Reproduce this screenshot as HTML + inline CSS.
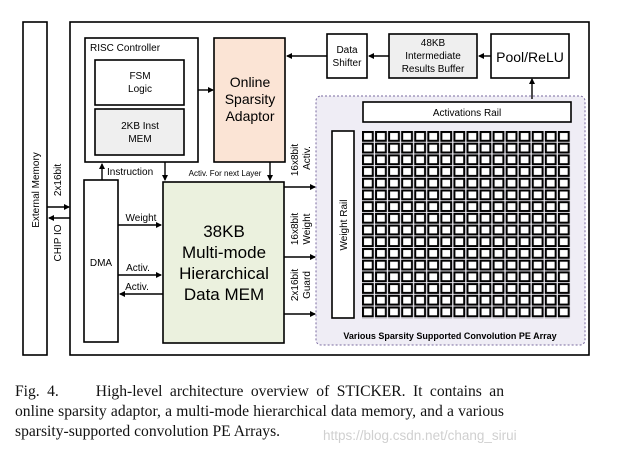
<!DOCTYPE html>
<html><head><meta charset="utf-8"><style>
html,body{margin:0;padding:0;background:#fff;width:618px;height:457px;overflow:hidden}
svg{position:absolute;left:0;top:0}
.cap{position:absolute;left:15px;width:489px;font-family:"Liberation Serif",serif;font-size:15.6px;line-height:20px;color:#111;text-align:justify;text-align-last:justify;white-space:nowrap}
.wm{position:absolute;left:323px;top:428px;font-family:"Liberation Sans",sans-serif;font-size:13.5px;color:#d0d0d0}
</style></head><body>
<svg width="618" height="457" viewBox="0 0 618 457" font-family="Liberation Sans, sans-serif">
<defs>
<marker id="a" markerWidth="6" markerHeight="6" refX="5" refY="3" orient="auto" markerUnits="userSpaceOnUse"><path d="M0,0 L6,3 L0,6 z" fill="#000"/></marker>
<pattern id="pe" x="362" y="131" width="13.06" height="11.7" patternUnits="userSpaceOnUse"><rect x="1" y="1" width="9.8" height="8.8" fill="#fff" stroke="#000" stroke-width="2"/></pattern>
</defs>
<g stroke="#000" stroke-width="1.6" fill="#fff">
<rect x="23" y="22" width="24" height="333"/>
<rect x="70" y="22" width="519" height="333"/>
<rect x="85" y="38" width="113" height="124"/>
<rect x="95" y="60" width="89" height="45"/>
<rect x="95" y="109" width="89" height="46" fill="#efefef"/>
<rect x="214" y="38" width="71" height="124" fill="#fbe4d5"/>
<rect x="84" y="180" width="34" height="162"/>
<rect x="163" y="182" width="121" height="161" fill="#ebf1de"/>
<rect x="316" y="96" width="269" height="249" rx="5" fill="#efedf5" stroke="#7a6aa0" stroke-width="1" stroke-dasharray="2,2"/>
<rect x="327" y="34" width="40" height="44"/>
<rect x="389" y="34" width="88" height="44" fill="#efefef"/>
<rect x="491" y="34" width="78" height="44"/>
<rect x="363" y="102" width="208" height="20"/>
<rect x="332" y="131" width="22" height="187"/>
</g>
<rect x="362" y="131" width="209" height="187.2" fill="url(#pe)"/>
<g stroke="#000" stroke-width="1.4" fill="none" marker-end="url(#a)">
<line x1="532" y1="99" x2="532" y2="79"/>
<line x1="491" y1="56" x2="479" y2="56"/>
<line x1="389" y1="56" x2="369" y2="56"/>
<line x1="327" y1="56" x2="287" y2="56"/>
<line x1="198" y1="90" x2="213" y2="90"/>
<line x1="102" y1="180" x2="102" y2="164"/>
<line x1="165" y1="162" x2="165" y2="180"/>
<line x1="270" y1="162" x2="270" y2="180"/>
<line x1="284" y1="187" x2="315" y2="187"/>
<line x1="284" y1="257" x2="315" y2="257"/>
<line x1="284" y1="314" x2="315" y2="314"/>
<line x1="118" y1="225" x2="161" y2="225"/>
<line x1="118" y1="275" x2="161" y2="275"/>
<line x1="163" y1="294" x2="120" y2="294"/>
<line x1="47" y1="207" x2="69" y2="207"/>
<line x1="70" y1="218" x2="49" y2="218"/>
</g>
<g font-size="10" text-anchor="middle" fill="#000">
<text x="90" y="51" text-anchor="start">RISC Controller</text>
<text x="140" y="79">FSM</text><text x="140" y="92">Logic</text>
<text x="140" y="129">2KB Inst</text><text x="140" y="142">MEM</text>
<text x="250" y="87" font-size="14">Online</text>
<text x="250" y="104" font-size="14">Sparsity</text>
<text x="250" y="121" font-size="14">Adaptor</text>
<text x="347" y="53">Data</text><text x="347" y="66">Shifter</text>
<text x="433" y="46">48KB</text><text x="433" y="59">Intermediate</text><text x="433" y="72">Results Buffer</text>
<text x="530" y="62" font-size="14">Pool/ReLU</text>
<text x="467" y="116">Activations Rail</text>
<text x="347" y="225" transform="rotate(-90 347 225)">Weight Rail</text>
<text x="450" y="339" font-weight="bold" font-size="9">Various Sparsity Supported Convolution PE Array</text>
<text x="101" y="266">DMA</text>
<text x="224" y="237" font-size="17">38KB</text>
<text x="224" y="258" font-size="17">Multi-mode</text>
<text x="224" y="279" font-size="17">Hierarchical</text>
<text x="224" y="300" font-size="17">Data MEM</text>
<text x="107" y="175" text-anchor="start">Instruction</text>
<text x="225" y="176" font-size="8" text-anchor="middle">Activ. For next Layer</text>
<text x="141" y="221">Weight</text>
<text x="138" y="271">Activ.</text>
<text x="137" y="290">Activ.</text>
<text x="39" y="190" transform="rotate(-90 39 190)">External Memory</text>
<text x="61" y="180" transform="rotate(-90 61 180)">2x16bit</text>
<text x="61" y="243" transform="rotate(-90 61 243)">CHIP IO</text>
<text x="298" y="160" transform="rotate(-90 298 160)">16x8bit</text>
<text x="310" y="158" transform="rotate(-90 310 158)">Activ.</text>
<text x="298" y="229" transform="rotate(-90 298 229)">16x8bit</text>
<text x="310" y="229" transform="rotate(-90 310 229)">Weight</text>
<text x="298" y="285" transform="rotate(-90 298 285)">2x16bit</text>
<text x="310" y="285" transform="rotate(-90 310 285)">Guard</text>
</g>
</svg>
<div class="cap" style="top:382px">Fig. 4.&nbsp;&nbsp;&nbsp;&nbsp;&nbsp;High-level architecture overview of STICKER. It contains an</div>
<div class="cap" style="top:402px">online sparsity adaptor, a multi-mode hierarchical data memory, and a various</div>
<div class="cap" style="top:422px;text-align-last:left;text-align:left">sparsity-supported convolution PE Arrays.</div>
<div class="wm">https://blog.csdn.net/chang_sirui</div>
</body></html>
